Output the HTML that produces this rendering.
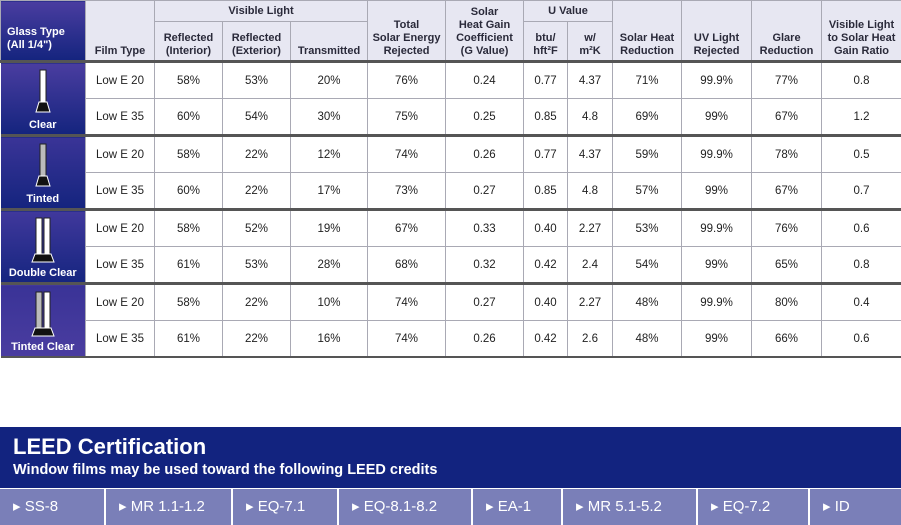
<!DOCTYPE html>
<html><head><meta charset="utf-8"><style>
body{margin:0;width:901px;height:525px;background:#fff;font-family:"Liberation Sans",sans-serif;position:relative;overflow:hidden}
table{position:absolute;left:0;top:0;border-collapse:collapse;table-layout:fixed;width:901px}
td,th{border:1px solid #a9a9b4;text-align:center;padding:0;font-size:11.5px;color:#222}
th{background:#e7e7f2;font-size:11px;font-weight:bold;color:#2a2a3a;line-height:13px;vertical-align:bottom;padding-bottom:2px}
th.top{vertical-align:middle;padding:0}
.hd th{border-bottom:3px solid #555}
tr.g td{border-top:3px solid #555}
td.glass{color:#fff;font-weight:bold;font-size:11px;vertical-align:bottom;padding-bottom:3px;border-left:0}
td.gt1{background:linear-gradient(#4a3da0,#14247e)}
td.gt2{background:linear-gradient(#3a3497,#14247e)}
td.gt3{background:linear-gradient(#40389c,#15257f)}
td.gt4{background:linear-gradient(#3a3397,#4a3da0)}
th.gh{background:linear-gradient(#4a3da0,#14247e);color:#fff;text-align:left;padding-left:6px;vertical-align:bottom;padding-bottom:8px}
tr.d td{height:35px}
#leed{position:absolute;left:0;top:427px;width:901px;height:61px;background:#12237f;color:#fff}
#leed .t{position:absolute;left:13px;top:7px;font-size:22px;font-weight:bold}
#leed .s{position:absolute;left:13px;top:35px;font-size:14.5px;font-weight:bold}
.btn{position:absolute;top:489px;height:36px;background:#7a7fb8;color:#fff;font-size:15px;line-height:36px;padding-left:13px;box-sizing:border-box}
</style></head><body>
<table>
<colgroup><col style="width:85px"><col style="width:69px"><col style="width:68px"><col style="width:68px"><col style="width:77px"><col style="width:78px"><col style="width:78px"><col style="width:44px"><col style="width:45px"><col style="width:69px"><col style="width:70px"><col style="width:70px"><col style="width:80px"></colgroup>
<tr style="height:21px">
<th rowspan="2" class="gh">Glass Type<br>(All 1/4")</th>
<th rowspan="2">Film Type</th>
<th colspan="3" class="top">Visible Light</th>
<th rowspan="2">Total<br>Solar Energy<br>Rejected</th>
<th rowspan="2">Solar<br>Heat Gain<br>Coefficient<br>(G Value)</th>
<th colspan="2" class="top">U Value</th>
<th rowspan="2">Solar Heat<br>Reduction</th>
<th rowspan="2">UV Light<br>Rejected</th>
<th rowspan="2">Glare<br>Reduction</th>
<th rowspan="2">Visible Light<br>to Solar Heat<br>Gain Ratio</th>
</tr>
<tr class="hd" style="height:40px">
<th>Reflected<br>(Interior)</th>
<th>Reflected<br>(Exterior)</th>
<th>Transmitted</th>
<th>btu/<br>hft²F</th>
<th>w/<br>m²K</th>
</tr>
<tr class="d g"><td rowspan="2" class="glass gt1"><svg width="30" height="48" viewBox="0 0 30 48"><rect x="12" y="2" width="6" height="34" fill="#fff" stroke="#222" stroke-width="1"/><path d="M8 44 L11 34 L19 34 L22 44Z" fill="#111" stroke="#fff" stroke-width="1"/></svg><br>Clear</td><td>Low E 20</td><td>58%</td><td>53%</td><td>20%</td><td>76%</td><td>0.24</td><td>0.77</td><td>4.37</td><td>71%</td><td>99.9%</td><td>77%</td><td>0.8</td></tr>
<tr class="d"><td>Low E 35</td><td>60%</td><td>54%</td><td>30%</td><td>75%</td><td>0.25</td><td>0.85</td><td>4.8</td><td>69%</td><td>99%</td><td>67%</td><td>1.2</td></tr>
<tr class="d g"><td rowspan="2" class="glass gt2"><svg width="30" height="48" viewBox="0 0 30 48"><rect x="12" y="2" width="6" height="34" fill="#bbb" stroke="#222" stroke-width="1"/><path d="M8 44 L11 34 L19 34 L22 44Z" fill="#111" stroke="#fff" stroke-width="1"/></svg><br>Tinted</td><td>Low E 20</td><td>58%</td><td>22%</td><td>12%</td><td>74%</td><td>0.26</td><td>0.77</td><td>4.37</td><td>59%</td><td>99.9%</td><td>78%</td><td>0.5</td></tr>
<tr class="d"><td>Low E 35</td><td>60%</td><td>22%</td><td>17%</td><td>73%</td><td>0.27</td><td>0.85</td><td>4.8</td><td>57%</td><td>99%</td><td>67%</td><td>0.7</td></tr>
<tr class="d g"><td rowspan="2" class="glass gt3"><svg width="30" height="48" viewBox="0 0 30 48"><rect x="8" y="2" width="6" height="36" fill="#fff" stroke="#222"/><rect x="16" y="2" width="6" height="36" fill="#fff" stroke="#222"/><path d="M4 46 L7 38 L23 38 L26 46Z" fill="#111" stroke="#fff"/></svg><br>Double Clear</td><td>Low E 20</td><td>58%</td><td>52%</td><td>19%</td><td>67%</td><td>0.33</td><td>0.40</td><td>2.27</td><td>53%</td><td>99.9%</td><td>76%</td><td>0.6</td></tr>
<tr class="d"><td>Low E 35</td><td>61%</td><td>53%</td><td>28%</td><td>68%</td><td>0.32</td><td>0.42</td><td>2.4</td><td>54%</td><td>99%</td><td>65%</td><td>0.8</td></tr>
<tr class="d g"><td rowspan="2" class="glass gt4"><svg width="30" height="48" viewBox="0 0 30 48"><rect x="8" y="2" width="6" height="36" fill="#bbb" stroke="#222"/><rect x="16" y="2" width="6" height="36" fill="#fff" stroke="#222"/><path d="M4 46 L7 38 L23 38 L26 46Z" fill="#111" stroke="#fff"/></svg><br>Tinted Clear</td><td>Low E 20</td><td>58%</td><td>22%</td><td>10%</td><td>74%</td><td>0.27</td><td>0.40</td><td>2.27</td><td>48%</td><td>99.9%</td><td>80%</td><td>0.4</td></tr>
<tr class="d" style="border-bottom:2px solid #555"><td>Low E 35</td><td>61%</td><td>22%</td><td>16%</td><td>74%</td><td>0.26</td><td>0.42</td><td>2.6</td><td>48%</td><td>99%</td><td>66%</td><td>0.6</td></tr>
</table>
<div id="leed"><div class="t">LEED Certification</div><div class="s">Window films may be used toward the following LEED credits</div></div>
<div class="btn" style="left:0;width:104px">▸ SS-8</div>
<div class="btn" style="left:106px;width:125px">▸ MR 1.1-1.2</div>
<div class="btn" style="left:233px;width:104px">▸ EQ-7.1</div>
<div class="btn" style="left:339px;width:132px">▸ EQ-8.1-8.2</div>
<div class="btn" style="left:473px;width:88px">▸ EA-1</div>
<div class="btn" style="left:563px;width:133px">▸ MR 5.1-5.2</div>
<div class="btn" style="left:698px;width:110px">▸ EQ-7.2</div>
<div class="btn" style="left:810px;width:91px">▸ ID</div>
</body></html>
